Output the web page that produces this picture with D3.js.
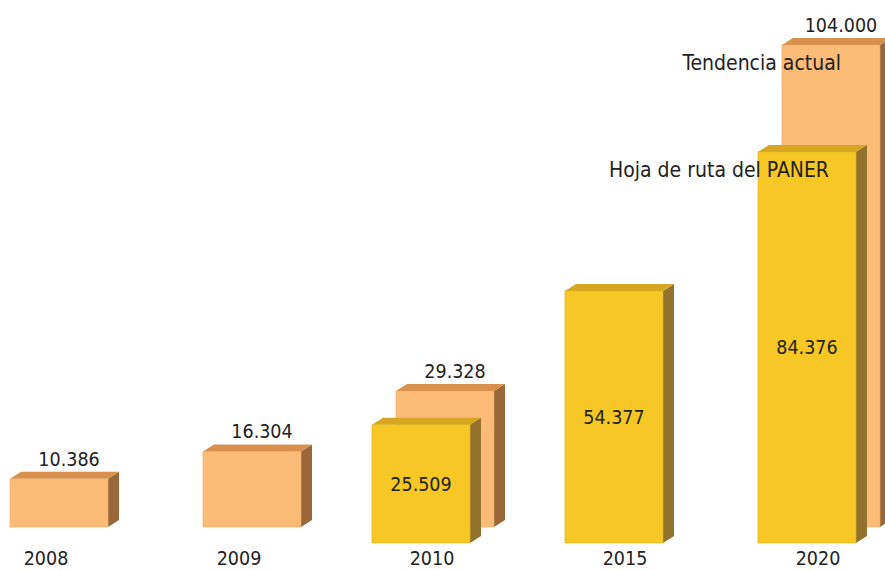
<!DOCTYPE html>
<html>
<head>
<meta charset="utf-8">
<script src="https://cdn.jsdelivr.net/npm/d3@7"></script>
<style>
  body { margin: 0; background: #fff; }
  svg text { font-family: "DejaVu Sans Condensed", "DejaVu Sans", sans-serif; fill: #222; }
</style>
</head>
<body>
<div id="chart"></div>
<script>
// data
var years = ["2008", "2009", "2010", "2015", "2020"]
var tendencia = [10386, 16304, 29328, null, 104000]   // Tendencia actual
var paner = [null, null, 25509, 54377, 84376]          // Hoja de ruta del PANER
var seriesNames = ["Tendencia actual", "Hoja de ruta del PANER"]

var width = 885, height = 570
var depthX = 11, depthY = 7   // fake 3d depth

var svg = d3.select("#chart").append("svg")
    .attr("width", width)
    .attr("height", height)

var xScale = d3.scaleBand()
    .domain(years)
    .range([10, 880])
    .paddingInner(0.492)
    .paddingOuter(0)

var yScale = d3.scaleLinear()
    .domain([0, 104000])
    .range([0, 482])

var es = d3.formatLocale({decimal: ",", thousands: ".", grouping: [3], currency: ["", " €"]})
var fmt = es.format(",")

// the two series sit at different depths: PANER in front, shifted left and down
var series = [
    {name: seriesNames[0], values: tendencia, base: 527, shift: 0,
     front: "#fcbc78", top: "#d8904c", side: "#9c6738"},
    {name: seriesNames[1], values: paner, base: 543, shift: -24,
     front: "#f7c726", top: "#d7a722", side: "#93722d"}
]

series.forEach(function(s, si) {
    var data = years.map(function(y, i) { return {year: y, v: s.values[i]} })
        .filter(function(d) { return d.v != null })

    var g = svg.append("g").attr("class", "series" + si)
    var w = xScale.bandwidth()

    data.forEach(function(d) {
        var x = xScale(d.year) + s.shift
        var top = s.base - yScale(d.v)
        var bottom = s.base

        // side face
        g.append("polygon")
            .attr("points", [[x + w, top], [x + w + depthX, top - depthY],
                             [x + w + depthX, bottom - depthY], [x + w, bottom]].join(" "))
            .attr("fill", s.side)
        // top face
        g.append("polygon")
            .attr("points", [[x, top], [x + depthX, top - depthY],
                             [x + w + depthX, top - depthY], [x + w, top]].join(" "))
            .attr("fill", s.top)
        // front face
        g.append("rect")
            .attr("x", x)
            .attr("y", top)
            .attr("width", w)
            .attr("height", bottom - top)
            .attr("fill", s.front)
            .attr("stroke", d3.color(s.front).darker(0.3))
            .attr("stroke-width", 0.6)

        d.x = x; d.top = top; d.bottom = bottom
    })
    s.data = data
})

// value labels: above the orange bars, inside the yellow bars
series[0].data.forEach(function(d) {
    svg.append("text")
        .attr("x", d.x + xScale.bandwidth() / 2 + 10)
        .attr("y", d.top - depthY - 6)
        .attr("text-anchor", "middle")
        .style("font-size", "19.5px")
        .text(fmt(d.v))
})
series[1].data.forEach(function(d) {
    svg.append("text")
        .attr("x", d.x + xScale.bandwidth() / 2)
        .attr("y", (d.top + d.bottom) / 2)
        .attr("dy", "0.36em")
        .attr("text-anchor", "middle")
        .style("font-size", "19.5px")
        .text(fmt(d.v))
})

// series names beside the 2020 bars
series.forEach(function(s) {
    var last = s.data[s.data.length - 1]
    svg.append("text")
        .attr("x", last.x + xScale.bandwidth() - 39 + (s.shift ? 12 : 0))
        .attr("y", last.top + 25)
        .attr("text-anchor", "end")
        .style("font-size", "21px")
        .text(s.name)
})

// year labels
var xAxis = svg.append("g")
    .attr("transform", "translate(-13," + 545 + ")")
    .call(d3.axisBottom(xScale).tickSize(0).tickPadding(6))
xAxis.select(".domain").remove()
xAxis.selectAll("text")
    .style("font-size", "19.5px")
    .style("font-family", "'DejaVu Sans Condensed', 'DejaVu Sans', sans-serif")
    .attr("fill", "#222")
</script>
</body>
</html>
